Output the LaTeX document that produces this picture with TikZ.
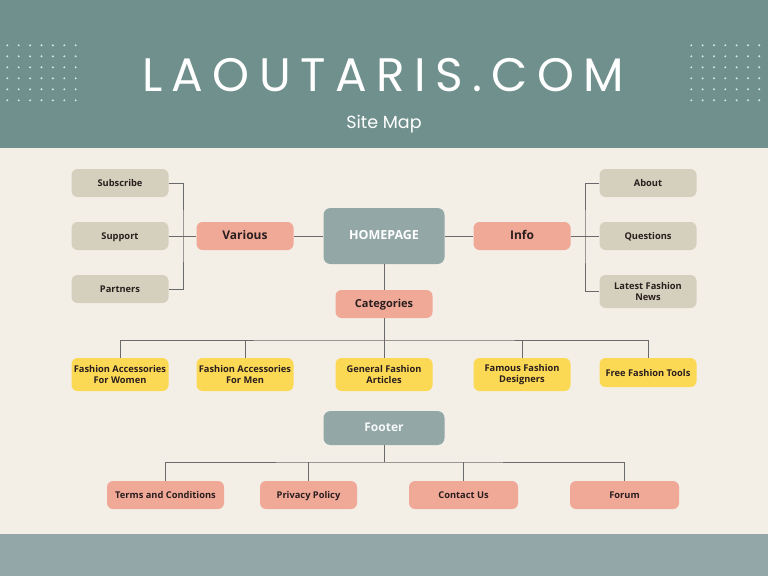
\documentclass[tikz,border=0pt]{standalone}
\usepackage{fontspec}
\setmainfont{Open Sans}
\newfontfamily\titlefont[LetterSpace=20]{Poppins}
\newfontfamily\subfont{Poppins}
\definecolor{headbg}{HTML}{6F908C}
\definecolor{bodybg}{HTML}{F3EFE7}
\definecolor{footbg}{HTML}{94A7A8}
\definecolor{beige}{HTML}{D5D0BD}
\definecolor{salmon}{HTML}{F0A897}
\definecolor{yellowbox}{HTML}{FCD955}
\definecolor{greynode}{HTML}{93A7A7}
\definecolor{txtdark}{HTML}{2A1E1E}
\definecolor{linec}{HTML}{6A6A6A}
\definecolor{dotc}{HTML}{D8E8E4}
\tikzset{
  basebox/.style={rounded corners=6pt, inner sep=0pt, align=center, text=txtdark,
    minimum width=97pt, minimum height=28pt, font=\bfseries\fontsize{9.3}{10.8}\selectfont},
  oneline/.style={text height=0.72em, text depth=0em},
  beigebox/.style={basebox, fill=beige},
  salbox/.style={basebox, fill=salmon},
  bigsal/.style={basebox, fill=salmon, font=\bfseries\fontsize{12}{14}\selectfont},
  yelbox/.style={basebox, fill=yellowbox, minimum height=33pt},
  greybox/.style={rounded corners=7pt, inner sep=0pt, fill=greynode, text=white, align=center},
  conn/.style={draw=linec, line width=1pt},
}
\begin{document}
\begin{tikzpicture}[x=1pt,y=-1pt]
\useasboundingbox (0,0) rectangle (768,576);
\fill[headbg] (0,0) rectangle (768,148);
\fill[bodybg] (0,148) rectangle (768,534);
\fill[footbg] (0,534) rectangle (768,576);
\foreach \i in {0,...,6}{
  \foreach \j in {0,...,5}{
    \fill[dotc] (7.3+11.4*\i,45.3+11*\j) circle (1.1pt);
    \fill[dotc] (691.3+11.33*\i,45.3+11*\j) circle (1.1pt);
  }
}
\node[text=white, font=\titlefont\fontsize{47}{50}\selectfont, anchor=base] (title) at (383,91) {LAOUTARIS.COM};
\node[text=white, font=\subfont\fontsize{17.5}{20}\selectfont, anchor=base] (sub) at (384,128) {Site Map};

% top level
\node[greybox, oneline, minimum width=121pt, minimum height=56pt, font=\bfseries\fontsize{12.5}{14}\selectfont] (home) at (384,236) {HOMEPAGE};
\node[bigsal, oneline] (var) at (245,236) {Various};
\node[bigsal, oneline] (info) at (522,236) {Info};
\node[beigebox, oneline] (subs) at (120,183) {Subscribe};
\node[beigebox, oneline] (supp) at (120,236) {Support};
\node[beigebox, oneline] (part) at (120,289) {Partners};
\node[beigebox, oneline] (about) at (648,183) {About};
\node[beigebox, oneline] (ques) at (648,236) {Questions};
\node[beigebox, minimum height=33pt] (news) at (648,291.5) {Latest Fashion\\News};
\node[salbox, oneline, font=\bfseries\fontsize{11}{13}\selectfont] (cat) at (384,304) {Categories};

\node[yelbox] (y1) at (120,374.5) {Fashion Accessories\\For Women};
\node[yelbox] (y2) at (245,374.5) {Fashion Accessories\\For Men};
\node[yelbox] (y3) at (384,374.5) {General Fashion\\Articles};
\node[yelbox] (y4) at (522,374.5) {Famous Fashion\\Designers};
\node[yelbox, oneline, minimum height=29pt] (y5) at (648,372.5) {Free Fashion Tools};

\node[greybox, oneline, minimum width=121pt, minimum height=34pt, text=white!93!greynode, font=\bfseries\fontsize{12}{14}\selectfont] (foot) at (384,428) {Footer};
\node[salbox, oneline, minimum width=117pt] (f1) at (165.5,495) {Terms and Conditions};
\node[salbox, oneline] (f2) at (308.5,495) {Privacy Policy};
\node[salbox, oneline, minimum width=109pt] (f3) at (463.5,495) {Contact Us};
\node[salbox, oneline, minimum width=109pt] (f4) at (624.5,495) {Forum};

\coordinate (lbar) at (183,236);
\coordinate (rbar) at (585,236);
\coordinate (cbus) at (384,340);
\coordinate (fbus) at (384,462);

\draw[conn] (subs.east) -| (lbar) |- (part.east);
\draw[conn] (supp.east) -- (var.west);
\draw[conn] (var.east) -- (home.west);
\draw[conn] (home.east) -- (info.west);
\draw[conn] (info.east) -- (ques.west);
\draw[conn] (about.west) -| (rbar) |- (news.west);
\draw[conn] (home.south) -- (cat.north);
\draw[conn] (cat.south) -- (cbus);
\draw[conn] (y1.north) |- (cbus) -| (y5.north);
\draw[conn] (y2.north) -- (y2.north |- cbus);
\draw[conn] (y3.north) -- (cbus);
\draw[conn] (y4.north) -- (y4.north |- cbus);
\draw[conn] (foot.south) -- (fbus);
\draw[conn] (f1.north) |- (fbus) -| (f4.north);
\draw[conn] (f2.north) -- (f2.north |- fbus);
\draw[conn] (f3.north) -- (f3.north |- fbus);
\end{tikzpicture}
\end{document}
